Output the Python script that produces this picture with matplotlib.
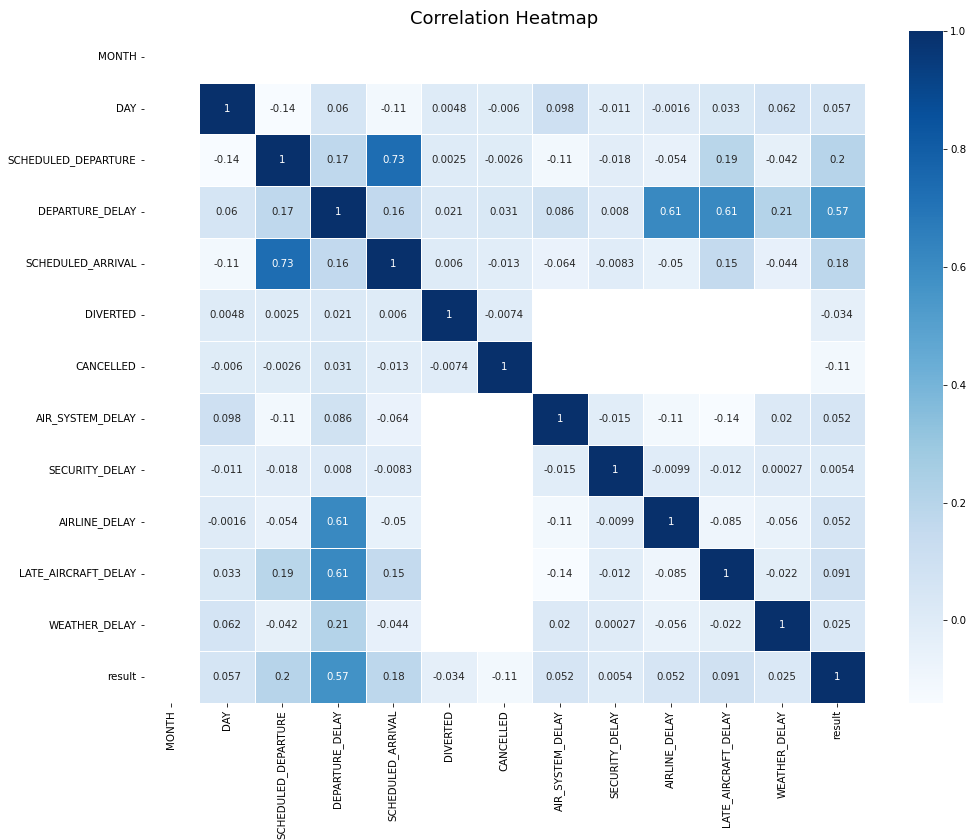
import numpy as np
import pandas as pd
import matplotlib
matplotlib.use("Agg")
import matplotlib.pyplot as plt
import seaborn as sns

nan = np.nan

labels = ["MONTH", "DAY", "SCHEDULED_DEPARTURE", "DEPARTURE_DELAY", "SCHEDULED_ARRIVAL",
          "DIVERTED", "CANCELLED", "AIR_SYSTEM_DELAY", "SECURITY_DELAY", "AIRLINE_DELAY",
          "LATE_AIRCRAFT_DELAY", "WEATHER_DELAY", "result"]

month_row = [nan] * 13
day_row = [nan, 1, -0.14, 0.06, -0.11, 0.0048, -0.006, 0.098, -0.011, -0.0016, 0.033, 0.062, 0.057]
sched_dep_row = [nan, -0.14, 1, 0.17, 0.73, 0.0025, -0.0026, -0.11, -0.018, -0.054, 0.19, -0.042, 0.2]
dep_delay_row = [nan, 0.06, 0.17, 1, 0.16, 0.021, 0.031, 0.086, 0.008, 0.61, 0.61, 0.21, 0.57]
sched_arr_row = [nan, -0.11, 0.73, 0.16, 1, 0.006, -0.013, -0.064, -0.0083, -0.05, 0.15, -0.044, 0.18]
diverted_row = [nan, 0.0048, 0.0025, 0.021, 0.006, 1, -0.0074, nan, nan, nan, nan, nan, -0.034]
cancelled_row = [nan, -0.006, -0.0026, 0.031, -0.013, -0.0074, 1, nan, nan, nan, nan, nan, -0.11]
air_system_row = [nan, 0.098, -0.11, 0.086, -0.064, nan, nan, 1, -0.015, -0.11, -0.14, 0.02, 0.052]
security_row = [nan, -0.011, -0.018, 0.008, -0.0083, nan, nan, -0.015, 1, -0.0099, -0.012, 0.00027, 0.0054]
airline_row = [nan, -0.0016, -0.054, 0.61, -0.05, nan, nan, -0.11, -0.0099, 1, -0.085, -0.056, 0.052]
late_aircraft_row = [nan, 0.033, 0.19, 0.61, 0.15, nan, nan, -0.14, -0.012, -0.085, 1, -0.022, 0.091]
weather_row = [nan, 0.062, -0.042, 0.21, -0.044, nan, nan, 0.02, 0.00027, -0.056, -0.022, 1, 0.025]
result_row = [nan, 0.057, 0.2, 0.57, 0.18, -0.034, -0.11, 0.052, 0.0054, 0.052, 0.091, 0.025, 1]

corr = pd.DataFrame(
    [month_row, day_row, sched_dep_row, dep_delay_row, sched_arr_row, diverted_row,
     cancelled_row, air_system_row, security_row, airline_row, late_aircraft_row,
     weather_row, result_row],
    index=labels, columns=labels)

dpi = 72
fig = plt.figure(figsize=(967 / dpi, 840 / dpi), dpi=dpi)
ax = fig.add_axes([143.5 / 967, 137 / 840, 721.5 / 967, 672 / 840])
cax = fig.add_axes([909 / 967, 137 / 840, 34 / 967, 672 / 840])

sns.heatmap(corr, annot=True, cmap="Blues", linewidths=0.5, linecolor="white",
            ax=ax, cbar_ax=cax, annot_kws={"fontsize": 10.2})

ax.set_title("Correlation Heatmap", fontsize=18, pad=7)
ax.set_xticklabels(labels, rotation=90, fontsize=10.2)
ax.set_yticklabels(labels, rotation=0, fontsize=10.2)
cax.tick_params(labelsize=10.2)

fig.savefig("out.png", dpi=dpi)
